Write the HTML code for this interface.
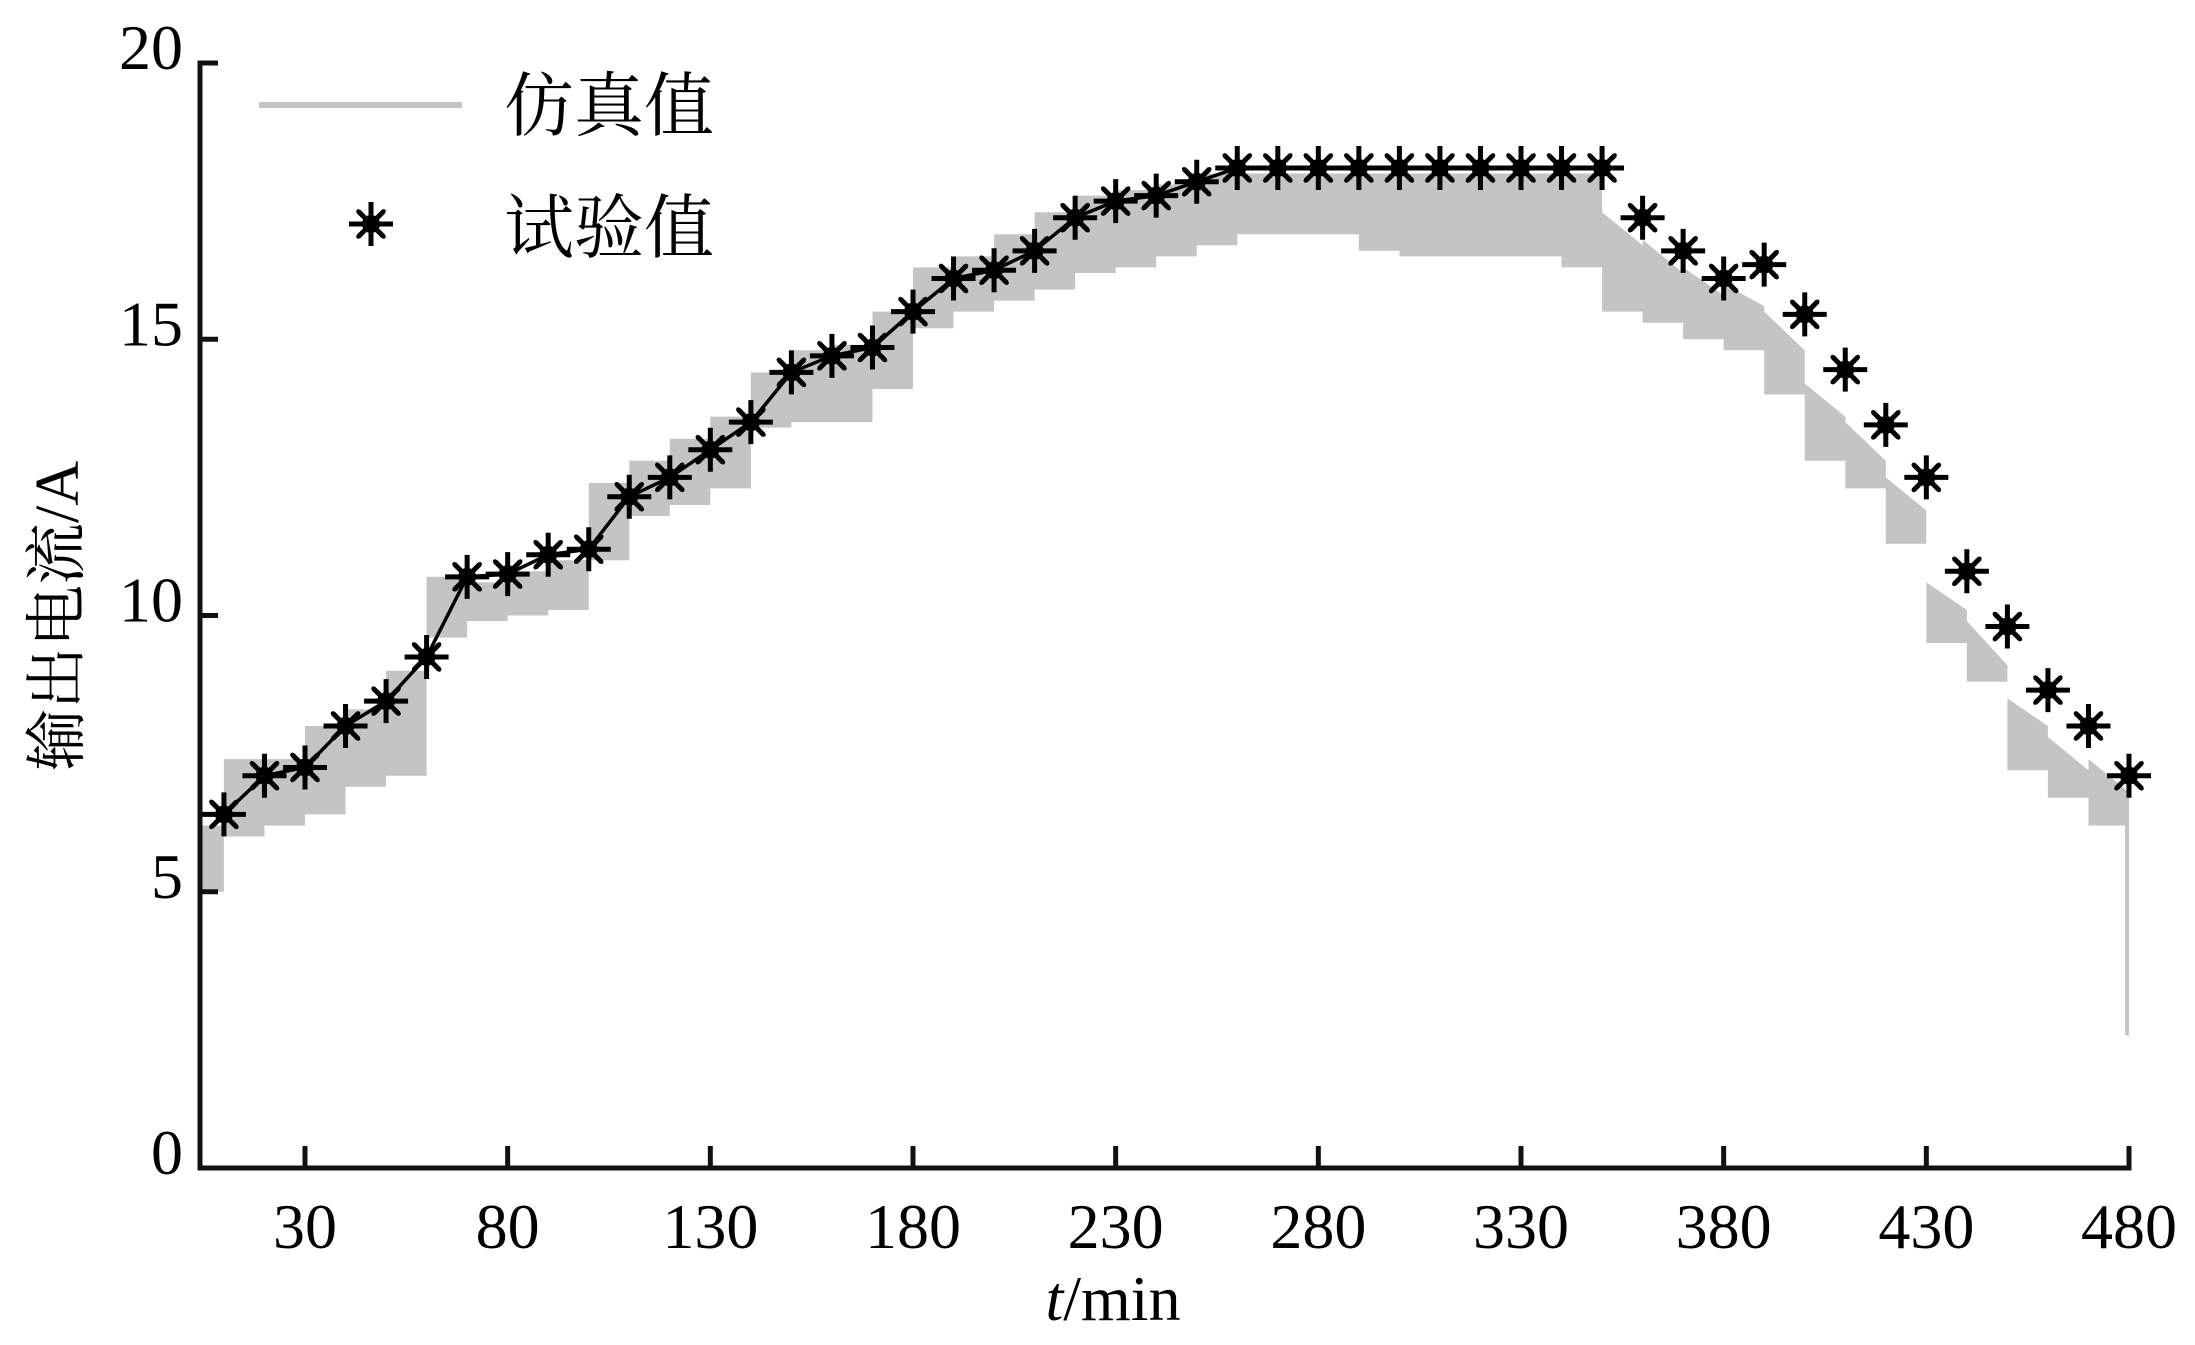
<!DOCTYPE html>
<html><head><meta charset="utf-8"><style>
html,body{margin:0;padding:0;background:#fff;}
svg{display:block;}
text{font-family:"Liberation Serif","Noto Serif CJK SC","Noto Sans CJK SC",serif;fill:#000;}
</style></head><body>
<svg id="chart" width="2195" height="1345" viewBox="0 0 2195 1345" xmlns="http://www.w3.org/2000/svg">
<g id="sim"></g>
<g id="expLine"></g>
<g id="stars"></g>
<g id="axes"></g>
<g id="legend">
  <line x1="259" y1="105" x2="462" y2="105" stroke="#c4c4c4" stroke-width="6"/>
  <text x="504" y="130" font-size="70">仿真值</text>
  <g id="legStar"></g>
  <text x="504" y="252" font-size="70">试验值</text>
</g>
<text transform="translate(78,616) rotate(-90)" text-anchor="middle" font-size="62">输出电流/A</text>
<text x="1113" y="1320" text-anchor="middle" font-size="64"><tspan font-style="italic">t</tspan>/min</text>
</svg>
<script>
const expTimes=[10,20,30,40,50,60,70,80,90,100,110,120,130,140,150,160,170,180,190,200,210,220,230,240,250,260,270,280,290,300,310,320,330,340,350,360,370,380,390,400,410,420,430,440,450,460,470,480];
const expValues=[6.4,7.1,7.25,8.0,8.45,9.25,10.7,10.75,11.1,11.2,12.15,12.5,13.0,13.5,14.4,14.7,14.85,15.5,16.1,16.25,16.6,17.2,17.5,17.6,17.85,18.1,18.1,18.1,18.1,18.1,18.1,18.1,18.1,18.1,18.1,17.2,16.6,16.1,16.35,15.45,14.45,13.45,12.5,10.8,9.8,8.65,8.0,7.1];
const lineEnd=350;
const simStarts=[4,10,20,30,40,50,60,70,80,90,100,110,120,130,140,150,160,170,180,190,200,210,220,230,240,250,260,290,300,340,350,360,370,380,390,400,410,420,430,440,450,460,470];
const simHigh=[6.2,7.4,7.4,8.0,8.3,9.0,10.7,10.6,10.8,11.0,12.4,12.8,13.2,13.6,14.4,14.8,14.9,15.5,16.3,16.5,16.9,17.3,17.6,17.7,17.8,18.0,18.0,18.0,18.0,18.0,17.3,16.8,16.3,16.0,15.5,14.2,13.5,12.5,10.6,9.9,8.5,7.8,7.4];
const simHighEnd=[6.2,7.4,7.4,8.0,8.3,9.0,10.7,10.6,10.8,11.0,12.4,12.8,13.2,13.6,14.4,14.8,14.9,15.5,16.3,16.5,16.9,17.3,17.6,17.7,17.8,18.0,18.0,18.0,18.0,18.0,16.7,16.2,15.8,15.6,14.8,13.6,12.8,11.9,10.1,9.1,8.0,7.2,6.8];
const simLow=[5.0,6.0,6.2,6.4,6.9,7.1,9.6,9.9,10.0,10.1,11.0,11.8,12.0,12.3,13.4,13.5,13.5,14.1,15.2,15.5,15.7,15.9,16.2,16.3,16.5,16.7,16.9,16.6,16.5,16.3,15.5,15.3,15.0,14.8,14.0,12.8,12.3,11.3,9.5,8.8,7.2,6.7,6.2];
const simEnd=480;
const xTicks=[30,80,130,180,230,280,330,380,430,480];
const yTicks=[0,5,10,15,20];

const X0=200,Y0=1168,Y20=63;
const xs=t=>305+(t-30)*(2129-305)/450;
const ys=v=>Y0-(v/20)*(Y0-Y20);
const NS="http://www.w3.org/2000/svg";
function mk(tag,parent){const e=document.createElementNS(NS,tag);parent.appendChild(e);return e;}

const sim=document.getElementById('sim');
let up=[],lo=[];
for(let i=0;i<simStarts.length;i++){
  const a=simStarts[i],b=(i+1<simStarts.length)?simStarts[i+1]:simEnd;
  up.push([xs(a),ys(simHigh[i])],[xs(b),ys(simHighEnd[i])]);
  lo.push([xs(a),ys(simLow[i])],[xs(b),ys(simLow[i])]);
}
const pts=up.concat(lo.reverse()).map(p=>p[0].toFixed(1)+','+p[1].toFixed(1)).join(' ');
const band=mk('polygon',sim);


band.setAttribute('points',pts);band.setAttribute('fill','#c4c4c4');
const drop=mk('line',sim);


drop.setAttribute('x1',xs(simEnd)-2);drop.setAttribute('x2',xs(simEnd)-2);
drop.setAttribute('y1',ys(simLow[simLow.length-1]));drop.setAttribute('y2',ys(2.4));
drop.setAttribute('stroke','#c4c4c4');drop.setAttribute('stroke-width','4');

const el=document.getElementById('expLine');
const pl=mk('polyline',el);


pl.setAttribute('points',expTimes.map((t,i)=>[t,i]).filter(p=>p[0]<=lineEnd).map(p=>xs(p[0]).toFixed(1)+','+ys(expValues[p[1]]).toFixed(1)).join(' '));
pl.setAttribute('fill','none');pl.setAttribute('stroke','#000');pl.setAttribute('stroke-width','3.5');

function star(parent,cx,cy){
  const g=mk('g',parent);
  const r=22,rd=18*0.707;
  let d=`M${cx-r},${cy}L${cx+r},${cy}M${cx},${cy-r}L${cx},${cy+r}`;
  d+=`M${cx-rd},${cy-rd}L${cx+rd},${cy+rd}M${cx-rd},${cy+rd}L${cx+rd},${cy-rd}`;
  const p=mk('path',g);p.setAttribute('d',d);p.setAttribute('stroke','#000');p.setAttribute('stroke-width','5');
  const p2=mk('path',g);
  p2.setAttribute('d',`M${cx-rd},${cy-rd}L${cx+rd},${cy+rd}M${cx-rd},${cy+rd}L${cx+rd},${cy-rd}`);
  p2.setAttribute('stroke','#000');p2.setAttribute('stroke-width','4');p2.setAttribute('stroke-linecap','round');
  const c=mk('circle',g);c.setAttribute('cx',cx);c.setAttribute('cy',cy);c.setAttribute('r',9);c.setAttribute('fill','#000');
  return g;
}
const sg=document.getElementById('stars');
expTimes.forEach((t,i)=>{
  const g=star(sg,xs(t),ys(expValues[i]));
  
  
});
star(document.getElementById('legStar'),371,224);

const ax=document.getElementById('axes');
const frame=mk('path',ax);


frame.setAttribute('d',`M${X0+18},${Y20}H${X0}V${Y0}H${xs(480)}V${Y0-22}`);
frame.setAttribute('fill','none');frame.setAttribute('stroke','#111');frame.setAttribute('stroke-width','5');
xTicks.forEach(t=>{
  const l=mk('line',ax);
  
  
  l.setAttribute('x1',xs(t));l.setAttribute('x2',xs(t));l.setAttribute('y1',Y0);l.setAttribute('y2',Y0-22);
  l.setAttribute('stroke','#111');l.setAttribute('stroke-width','5');
  const tx=mk('text',ax);
  
  
  tx.setAttribute('x',xs(t));tx.setAttribute('y',1248);tx.setAttribute('text-anchor','middle');tx.setAttribute('font-size','64');
  tx.textContent=t;
});
yTicks.forEach(v=>{
  const l=mk('line',ax);
  
  
  l.setAttribute('x1',X0);l.setAttribute('x2',X0+18);l.setAttribute('y1',ys(v));l.setAttribute('y2',ys(v));
  l.setAttribute('stroke','#111');l.setAttribute('stroke-width','5');
  const tx=mk('text',ax);
  
  
  tx.setAttribute('x',183);tx.setAttribute('y',ys(v)+6);tx.setAttribute('text-anchor','end');tx.setAttribute('font-size','64');
  tx.textContent=v;
});
</script>
</body></html>
